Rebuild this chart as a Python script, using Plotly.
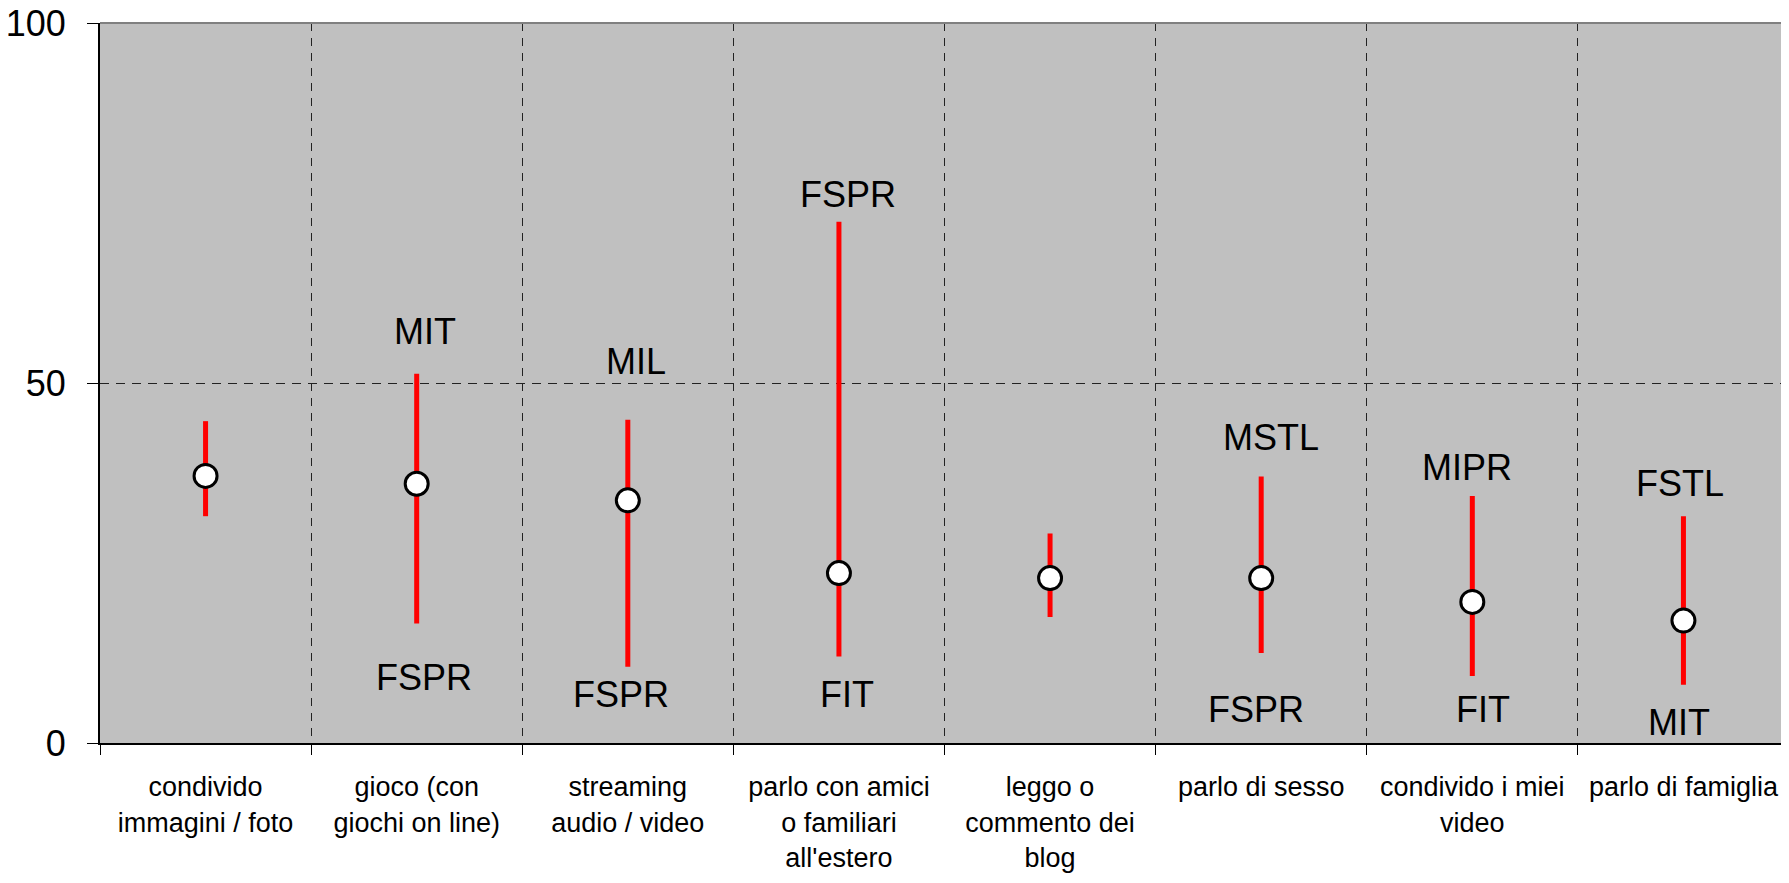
import plotly.graph_objects as go

categories = [
    "condivido<br>immagini / foto",
    "gioco (con<br>giochi on line)",
    "streaming<br>audio / video",
    "parlo con amici<br>o familiari<br>all'estero",
    "leggo o<br>commento dei<br>blog",
    "parlo di sesso",
    "condivido i miei<br>video",
    "parlo di famiglia",
]
mean_values = [37.1, 36.0, 33.7, 23.6, 22.9, 22.9, 19.6, 17.0]
high_values = [44.7, 51.3, 44.9, 72.4, 29.1, 37.0, 34.3, 31.5]
low_values = [31.5, 16.6, 10.6, 12.0, 17.5, 12.5, 9.3, 8.1]

top_labels = ["", "MIT", "MIL", "FSPR", "", "MSTL", "MIPR", "FSTL"]
top_label_values = [None, 57.2, 53.0, 76.2, None, 42.4, 38.2, 36.1]
bottom_labels = ["", "FSPR", "FSPR", "FIT", "", "FSPR", "FIT", "MIT"]
bottom_label_values = [None, 9.1, 6.7, 6.7, None, 4.6, 4.7, 2.8]

y_tick_values = [0, 50, 100]

# style-only offsets (pixels) for label placement
top_xshift = [0, 8, 8, 9, 0, 10, -5, -3]
bottom_xshift = [0, 7, -7, 8, 0, -5, 11, -4]

FONT = "Liberation Sans, Arial, sans-serif"

fig = go.Figure()
fig.add_trace(go.Scatter(
    x=categories,
    y=mean_values,
    mode="markers",
    marker=dict(size=23, color="white", line=dict(color="black", width=3)),
    error_y=dict(
        type="data",
        symmetric=False,
        array=[h - m for h, m in zip(high_values, mean_values)],
        arrayminus=[m - l for m, l in zip(mean_values, low_values)],
        color="#FF0000",
        thickness=5,
        width=0,
    ),
    showlegend=False,
    hoverinfo="skip",
    cliponaxis=False,
))

annotations = []
for i, c in enumerate(categories):
    if top_labels[i]:
        annotations.append(dict(x=c, y=top_label_values[i], text=top_labels[i],
                                showarrow=False, xshift=top_xshift[i],
                                font=dict(size=36, color="black", family=FONT)))
    if bottom_labels[i]:
        annotations.append(dict(x=c, y=bottom_label_values[i], text=bottom_labels[i],
                                showarrow=False, xshift=bottom_xshift[i],
                                font=dict(size=36, color="black", family=FONT)))

fig.update_layout(
    width=1789,
    height=883,
    margin=dict(l=92, r=8, t=15, b=148, autoexpand=False),
    paper_bgcolor="white",
    plot_bgcolor="#C0C0C0",
    font=dict(family=FONT, color="black"),
    annotations=annotations,
    shapes=[dict(type="line", xref="paper", yref="paper", x0=0, x1=1, y0=1, y1=1,
                 line=dict(color="#808080", width=2), layer="above")],
)

fig.update_xaxes(
    type="category",
    range=[-0.5, len(categories) - 0.5],
    tickson="boundaries",
    ticks="outside",
    ticklen=10,
    tickwidth=1,
    tickcolor="black",
    showgrid=True,
    gridcolor="#222222",
    gridwidth=1,
    griddash="8px,7px",
    showline=True,
    linecolor="black",
    linewidth=2,
    tickfont=dict(size=27, family=FONT, color="black"),
    tickangle=0,
    ticklabelstandoff=19,
    ticklabeloverflow="allow",
    zeroline=False,
    automargin=False,
)

fig.update_yaxes(
    range=[0, 100],
    tickmode="array",
    tickvals=y_tick_values,
    ticktext=[str(v) for v in y_tick_values],
    ticks="outside",
    ticklen=11,
    tickwidth=1,
    tickcolor="black",
    showgrid=True,
    gridcolor="#222222",
    gridwidth=1,
    griddash="9px,7px",
    showline=True,
    linecolor="black",
    linewidth=2,
    zeroline=False,
    tickfont=dict(size=36, family=FONT, color="black"),
    ticklabelstandoff=14,
    ticklabeloverflow="allow",
    automargin=False,
)

fig.write_html("out.html")
